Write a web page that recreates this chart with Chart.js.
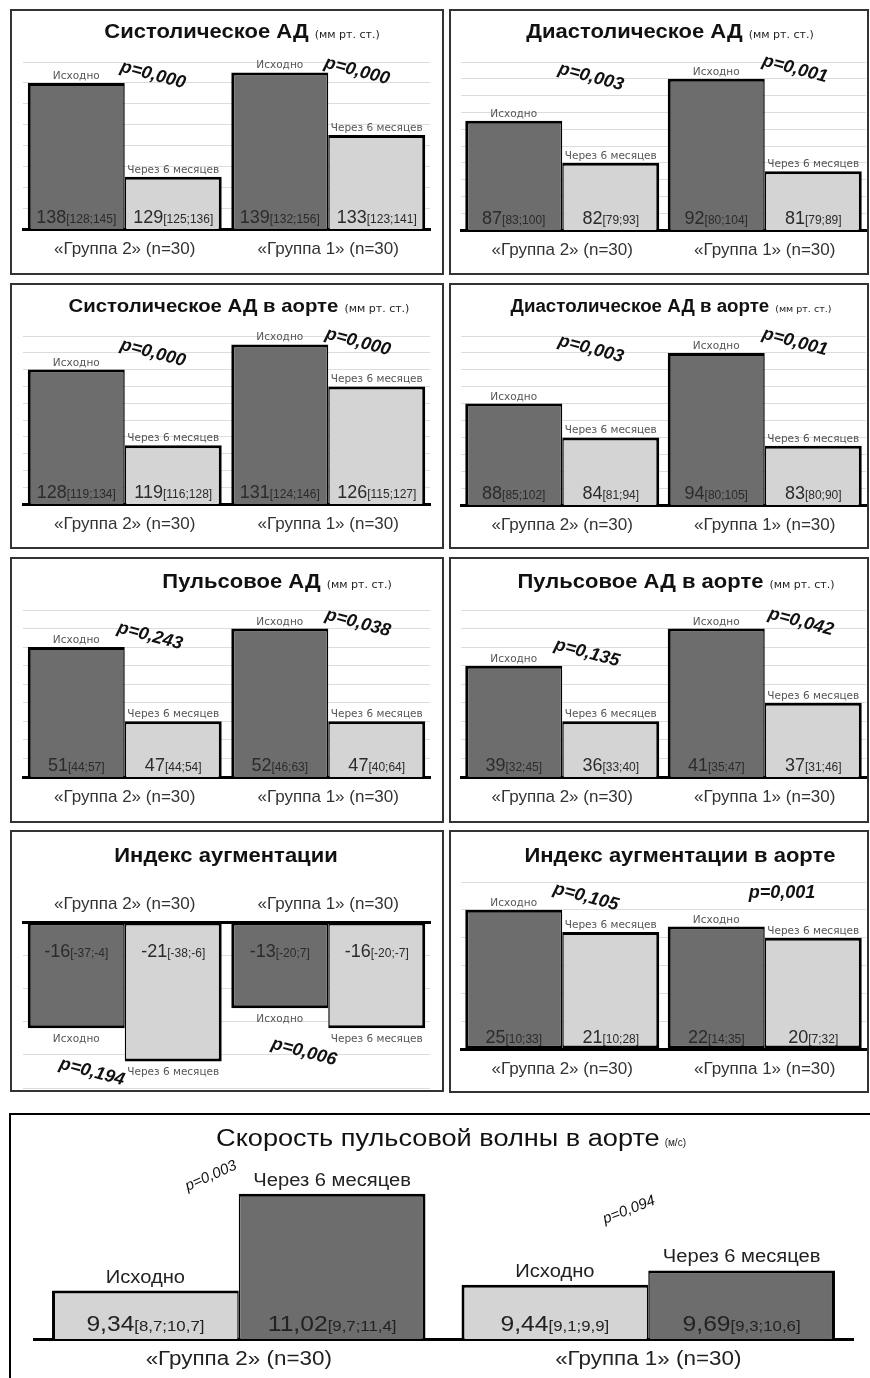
<!DOCTYPE html>
<html lang="ru">
<head>
<meta charset="utf-8">
<title>Динамика показателей</title>
<script src="https://cdn.jsdelivr.net/npm/chart.js@4.4.1/dist/chart.umd.min.js"></script>
<style>
  html, body { margin: 0; padding: 0; background: #fff; }
  body { position: relative; width: 870px; height: 1378px; overflow: hidden; }
  canvas { position: absolute; }
</style>
</head>
<body>
<script>
// categories and series
const groups = ['«Группа 2» (n=30)', '«Группа 1» (n=30)'];
const seriesNames = ['Исходно', 'Через 6 месяцев'];

// Систолическое АД
const sadBase = [138, 139];
const sadAfter = [129, 133];
const sadBaseIqr = ['[128;145]', '[132;156]'];
const sadAfterIqr = ['[125;136]', '[123;141]'];
const sadP = ['p=0,000', 'p=0,000'];

// Диастолическое АД
const dadBase = [87, 92];
const dadAfter = [82, 81];
const dadBaseIqr = ['[83;100]', '[80;104]'];
const dadAfterIqr = ['[79;93]', '[79;89]'];
const dadP = ['p=0,003', 'p=0,001'];

// Систолическое АД в аорте
const sadAoBase = [128, 131];
const sadAoAfter = [119, 126];
const sadAoBaseIqr = ['[119;134]', '[124;146]'];
const sadAoAfterIqr = ['[116;128]', '[115;127]'];
const sadAoP = ['p=0,000', 'p=0,000'];

// Диастолическое АД в аорте
const dadAoBase = [88, 94];
const dadAoAfter = [84, 83];
const dadAoBaseIqr = ['[85;102]', '[80;105]'];
const dadAoAfterIqr = ['[81;94]', '[80;90]'];
const dadAoP = ['p=0,003', 'p=0,001'];

// Пульсовое АД
const padBase = [51, 52];
const padAfter = [47, 47];
const padBaseIqr = ['[44;57]', '[46;63]'];
const padAfterIqr = ['[44;54]', '[40;64]'];
const padP = ['p=0,243', 'p=0,038'];

// Пульсовое АД в аорте
const padAoBase = [39, 41];
const padAoAfter = [36, 37];
const padAoBaseIqr = ['[32;45]', '[35;47]'];
const padAoAfterIqr = ['[33;40]', '[31;46]'];
const padAoP = ['p=0,135', 'p=0,042'];

// Индекс аугментации
const aixBase = [-16, -13];
const aixAfter = [-21, -16];
const aixBaseIqr = ['[-37;-4]', '[-20;7]'];
const aixAfterIqr = ['[-38;-6]', '[-20;-7]'];
const aixP = ['p=0,194', 'p=0,006'];

// Индекс аугментации в аорте
const aixAoBase = [25, 22];
const aixAoAfter = [21, 20];
const aixAoBaseIqr = ['[10;33]', '[14;35]'];
const aixAoAfterIqr = ['[10;28]', '[7;32]'];
const aixAoP = ['p=0,105', 'p=0,001'];

// Скорость пульсовой волны в аорте
const pwvBase = [9.34, 9.44];
const pwvAfter = [11.02, 9.69];
const pwvBaseIqr = ['[8,7;10,7]', '[9,1;9,9]'];
const pwvAfterIqr = ['[9,7;11,4]', '[9,3;10,6]'];
const pwvP = ['p=0,003', 'p=0,094'];

const SANS = '"Liberation Sans", Arial, sans-serif';
const WIDE = '"DejaVu Sans", Verdana, sans-serif';
const DARK = '#6d6d6d';
const LIGHT = '#d4d4d4';

const smallPanel = {
  title: 'bold 20px ' + SANS, titleSx: 1.1, unit: '11px ' + WIDE, unitGap: 6,
  lbl: '10.5px ' + WIDE, lblCol: '#555', lblUp: 4, lblDown: 14,
  big: '18px ' + SANS, small: '12px ' + SANS, valCol: '#2b2b2b', valOff: 6, negValOff: 35,
  grp: '17px ' + SANS, grpCol: '#333', grpOff: 25, negGrpOff: 13,
  pv: 'italic bold 18px ' + SANS, sx: 1, frame: '#333'
};
const widePanel = {
  title: '23px ' + SANS, titleSx: 1.18, unit: '10px ' + SANS, unitGap: 5,
  lbl: '18px ' + SANS, lblCol: '#222', lblUp: 8, lblDown: 14,
  big: '22px ' + SANS, small: '15px ' + SANS, valCol: '#222', valOff: 8, negValOff: 35,
  grp: '20px ' + SANS, grpCol: '#222', grpOff: 26, negGrpOff: 13,
  pv: 'italic 15px ' + SANS, sx: 1.12, frame: '#000'
};

// layout: box and chart area in page pixels, y range, annotation spots
const panels = [
  { box: [10, 9, 434, 266], area: [23, 62, 430, 229], y: [124, 140, 2], cat: 0.953,
    title: 'Систолическое АД', unit: '(мм рт. ст.)', tx: 242, ty: 38,
    base: sadBase, after: sadAfter, baseIqr: sadBaseIqr, afterIqr: sadAfterIqr, p: sadP,
    pPos: [[153, 75, 15], [357, 71, 15]] },
  { box: [449, 9, 420, 266], area: [461, 62, 866, 230], y: [74, 94, 2], cat: 0.958,
    title: 'Диастолическое АД', unit: '(мм рт. ст.)', tx: 670, ty: 38,
    base: dadBase, after: dadAfter, baseIqr: dadBaseIqr, afterIqr: dadAfterIqr, p: dadP,
    pPos: [[591, 77, 15], [795, 69, 15]] },
  { box: [10, 283, 434, 266], area: [23, 336, 430, 504], y: [112, 132, 2], cat: 0.953,
    title: 'Систолическое АД в аорте', unit: '(мм рт. ст.)', tx: 239, ty: 312,
    titleFont: 'bold 19px ' + SANS, titleSx: 1.07,
    base: sadAoBase, after: sadAoAfter, baseIqr: sadAoBaseIqr, afterIqr: sadAoAfterIqr, p: sadAoP,
    pPos: [[153, 353, 15], [358, 342, 15]] },
  { box: [449, 283, 420, 266], area: [461, 336, 866, 505], y: [76, 96, 2], cat: 0.958,
    title: 'Диастолическое АД в аорте', unit: '(мм рт. ст.)', tx: 671, ty: 312,
    titleFont: 'bold 18px ' + SANS, titleSx: 1.04, unitFont: '9.5px ' + WIDE,
    base: dadAoBase, after: dadAoAfter, baseIqr: dadAoBaseIqr, afterIqr: dadAoAfterIqr, p: dadAoP,
    pPos: [[591, 349, 15], [795, 342, 15]] },
  { box: [10, 557, 434, 266], area: [23, 610, 430, 777], y: [44, 53, 1], cat: 0.953,
    title: 'Пульсовое АД', unit: '(мм рт. ст.)', tx: 277, ty: 588,
    base: padBase, after: padAfter, baseIqr: padBaseIqr, afterIqr: padAfterIqr, p: padP,
    pPos: [[150, 636, 15], [358, 623, 15]] },
  { box: [449, 557, 420, 266], area: [461, 610, 866, 777], y: [33, 42, 1], cat: 0.958,
    title: 'Пульсовое АД в аорте', unit: '(мм рт. ст.)', tx: 676, ty: 588,
    base: padAoBase, after: padAoAfter, baseIqr: padAoBaseIqr, afterIqr: padAoAfterIqr, p: padAoP,
    pPos: [[587, 653, 15], [801, 622, 15]] },
  { box: [10, 830, 434, 262], area: [23, 922, 430, 1088], y: [-25, 0, 5], cat: 0.953, neg: true,
    title: 'Индекс аугментации', unit: '', tx: 226, ty: 862,
    base: aixBase, after: aixAfter, baseIqr: aixBaseIqr, afterIqr: aixAfterIqr, p: aixP,
    pPos: [[92, 1072, 15], [304, 1052, 15]] },
  { box: [449, 830, 420, 263], area: [461, 882, 866, 1049], y: [0, 30, 5], cat: 0.958,
    title: 'Индекс аугментации в аорте', unit: '', tx: 680, ty: 862,
    base: aixAoBase, after: aixAoAfter, baseIqr: aixAoBaseIqr, afterIqr: aixAoAfterIqr, p: aixAoP,
    pPos: [[586, 897, 15], [782, 893, 0]] },
  { box: [9, 1113, 880, 290], area: [34, 1166, 853, 1339], y: [8.5, 11.5, 0.5], cat: 0.912,
    wide: true, noGrid: true, colors: [LIGHT, DARK], decimals: 2,
    title: 'Скорость пульсовой волны в аорте', unit: '(м/с)', tx: 451, ty: 1146,
    base: pwvBase, after: pwvAfter, baseIqr: pwvBaseIqr, afterIqr: pwvAfterIqr, p: pwvP,
    pPos: [[211, 1176, -24], [629, 1210, -21]] }
];

function put(ctx, s, x, y, font, color, align, sx) {
  ctx.save();
  ctx.font = font;
  ctx.fillStyle = color;
  ctx.textAlign = align || 'center';
  ctx.textBaseline = 'alphabetic';
  ctx.translate(x, y);
  ctx.scale(sx || 1, 1);
  ctx.fillText(s, 0, 0);
  ctx.restore();
}

function textWidth(ctx, s, font, sx) {
  ctx.save();
  ctx.font = font;
  const w = ctx.measureText(s).width * (sx || 1);
  ctx.restore();
  return w;
}

function fmt(v, decimals) {
  return decimals ? v.toFixed(decimals).replace('.', ',') : String(v);
}

// draws frame, title, labels and p-values on top of the bars
const panelText = {
  id: 'panelText',
  afterDraw(chart, args, opts) {
    const p = opts.panel;
    const st = p.wide ? widePanel : smallPanel;
    const ctx = chart.ctx;
    const ox = p.box[0], oy = p.box[1];
    const area = chart.chartArea;
    // bars start at the axis line (scale does not include zero)
    const axisY = p.neg ? area.top : area.bottom;

    ctx.save();
    ctx.strokeStyle = st.frame;
    ctx.lineWidth = 2;
    ctx.strokeRect(1, 1, chart.width - 2, chart.height - 2);
    ctx.restore();

    // title + unit
    const tFont = p.titleFont || st.title;
    const tSx = p.titleSx || st.titleSx;
    const uFont = p.unitFont || st.unit;
    const wt = textWidth(ctx, p.title, tFont, tSx);
    const wu = p.unit ? textWidth(ctx, p.unit, uFont) + st.unitGap : 0;
    const tx0 = p.tx - ox - (wt + wu) / 2;
    put(ctx, p.title, tx0, p.ty - oy, tFont, '#111', 'left', tSx);
    if (p.unit) put(ctx, p.unit, tx0 + wt + st.unitGap, p.ty - oy, uFont, '#222', 'left');

    const iqr = [p.baseIqr, p.afterIqr];
    chart.data.datasets.forEach((ds, d) => {
      chart.getDatasetMeta(d).data.forEach((bar, i) => {
        const v = ds.data[i];
        if (v < 0) {
          put(ctx, seriesNames[d], bar.x, bar.y + st.lblDown, st.lbl, st.lblCol, 'center', st.sx);
        } else {
          put(ctx, seriesNames[d], bar.x, bar.y - st.lblUp, st.lbl, st.lblCol, 'center', st.sx);
        }
        const bigTxt = fmt(v, p.decimals);
        const smallTxt = iqr[d][i];
        const wb = textWidth(ctx, bigTxt, st.big, st.sx);
        const ws = textWidth(ctx, smallTxt, st.small, st.sx);
        const x0 = bar.x - (wb + ws) / 2;
        const yv = v < 0 ? axisY + st.negValOff : axisY - st.valOff;
        put(ctx, bigTxt, x0, yv, st.big, st.valCol, 'left', st.sx);
        put(ctx, smallTxt, x0 + wb, yv, st.small, st.valCol, 'left', st.sx);
      });
    });

    const xs = chart.scales.x;
    groups.forEach((g, i) => {
      const gy = p.neg ? area.top - st.negGrpOff : area.bottom + st.grpOff;
      put(ctx, g, xs.getPixelForValue(i), gy, st.grp, st.grpCol, 'center', st.sx);
    });

    p.p.forEach((txt, i) => {
      const [px, py, ang] = p.pPos[i];
      ctx.save();
      ctx.translate(px - ox, py - oy);
      ctx.rotate(ang * Math.PI / 180);
      ctx.font = st.pv;
      ctx.fillStyle = '#111';
      ctx.textAlign = 'center';
      ctx.textBaseline = 'middle';
      ctx.fillText(txt, 0, 0);
      ctx.restore();
    });
  }
};

function makePanel(p) {
  const [bx, by, bw, bh] = p.box;
  const [ax0, ay0, ax1, ay1] = p.area;
  const cv = document.createElement('canvas');
  cv.width = bw;
  cv.height = bh;
  cv.style.left = bx + 'px';
  cv.style.top = by + 'px';
  document.body.appendChild(cv);

  const colors = p.colors || [DARK, LIGHT];
  const common = { borderColor: '#000', borderSkipped: false, barPercentage: 1, categoryPercentage: p.cat };

  return new Chart(cv, {
    type: 'bar',
    data: {
      labels: groups,
      datasets: [
        { ...common, label: seriesNames[0], data: p.base, backgroundColor: colors[0],
          borderWidth: { top: 3, bottom: 3, left: 3, right: 1.5 } },
        { ...common, label: seriesNames[1], data: p.after, backgroundColor: colors[1],
          borderWidth: { top: 3, bottom: 3, left: 1.5, right: 3 } }
      ]
    },
    options: {
      responsive: false,
      animation: false,
      events: [],
      layout: { padding: { left: ax0 - bx, top: ay0 - by, right: bx + bw - ax1, bottom: by + bh - ay1 } },
      plugins: {
        legend: { display: false },
        tooltip: { enabled: false },
        panelText: { panel: p }
      },
      scales: {
        x: {
          position: p.neg ? 'top' : 'bottom',
          grid: { display: false, drawTicks: false },
          ticks: { display: false },
          border: { display: true, color: '#000', width: 3 }
        },
        y: {
          min: p.y[0],
          max: p.y[1],
          ticks: { display: false, stepSize: p.y[2] },
          grid: { display: !p.noGrid, drawTicks: false, color: '#dcdcdc', lineWidth: 1 },
          border: { display: false }
        }
      }
    },
    plugins: [panelText]
  });
}

panels.forEach(makePanel);
</script>
</body>
</html>
